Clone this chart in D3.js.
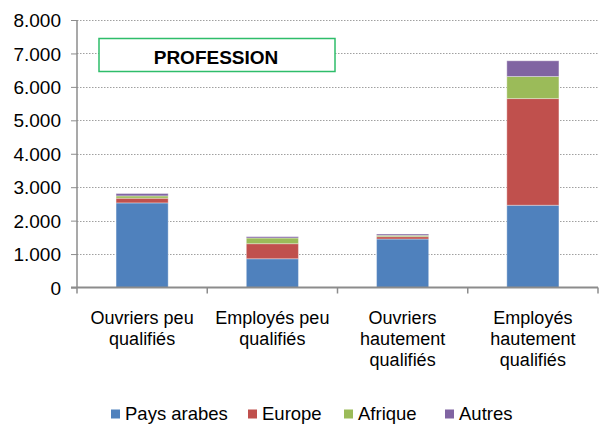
<!DOCTYPE html>
<html><head><meta charset="utf-8">
<script src="https://cdn.jsdelivr.net/npm/d3@7"></script>
<style>body{margin:0;background:#fff}svg{display:block;font-family:"Liberation Sans",Arial,sans-serif}</style>
</head><body><svg id="c" width="600" height="426"></svg>
<script>
const categories = [["Ouvriers peu","qualifiés"],["Employés peu","qualifiés"],["Ouvriers","hautement","qualifiés"],["Employés","hautement","qualifiés"]];
const seriesNames = ["Pays arabes","Europe","Afrique","Autres"];
const paysArabes = [2530, 860, 1450, 2460];
const europe = [140, 450, 70, 3190];
const afrique = [70, 170, 40, 660];
const autres = [70, 40, 40, 470];
const yTicks = [0,1000,2000,3000,4000,5000,6000,7000,8000];
const colors = ["#4f81bd","#c0504d","#9bbb59","#8064a2"];
const title = "PROFESSION";

(function(){
const svg = d3.select("#c");
const mL = 77, mR = 598, mT = 20, mB = 287.5;
const x = d3.scaleBand().domain(d3.range(categories.length)).range([mL, mR]).paddingInner(0.6).paddingOuter(0.3);
const y = d3.scaleLinear().domain([0, 8000]).range([mB, mT]);
const data = categories.map((c,i)=>({i, "Pays arabes":paysArabes[i], "Europe":europe[i], "Afrique":afrique[i], "Autres":autres[i]}));
const stack = d3.stack().keys(seriesNames)(data);

svg.append("g").selectAll("line").data(yTicks.slice(1)).join("line")
  .attr("x1", mL).attr("x2", mR).attr("y1", d=>Math.round(y(d))+0.5).attr("y2", d=>Math.round(y(d))+0.5)
  .attr("stroke", "#a0a0a0").attr("stroke-dasharray", "1.5,1.5").attr("stroke-width", 1);

svg.append("g").selectAll("g").data(stack).join("g").attr("fill", (d,i)=>colors[i])
  .selectAll("rect").data(d=>d).join("rect")
  .attr("x", d=>x(d.data.i)).attr("width", x.bandwidth())
  .attr("y", d=>y(d[1])).attr("height", d=>y(d[0])-y(d[1]))
  .attr("stroke", "rgba(255,255,255,0.35)").attr("stroke-width", 1);

const yAxis = svg.append("g").attr("transform", `translate(${mL},0)`)
  .call(d3.axisLeft(y).tickValues(yTicks).tickSize(6).tickFormat(d=>d3.format(",")(d).replace(/,/g,".")));
yAxis.select(".domain").attr("stroke", "#8c8c8c").attr("stroke-width", 1.5).attr("d", `M0,${mT}V${mB}`);
yAxis.selectAll(".tick line").attr("stroke", "#8c8c8c");
yAxis.selectAll(".tick text").attr("font-size", 19).attr("fill", "#000").attr("x", -16).attr("dy", "0.35em")
  .style("font-family", "'Liberation Sans',Arial,sans-serif");

const xb = svg.append("g").attr("transform", `translate(0,${mB})`);
xb.append("line").attr("x1", mL-6).attr("x2", mR).attr("stroke", "#8c8c8c").attr("stroke-width", 2);
const bounds = d3.range(categories.length+1).map(i => mL + i*(mR-mL)/categories.length);
xb.selectAll(".tk").data(bounds).join("line").attr("class","tk")
  .attr("x1", d=>d).attr("x2", d=>d).attr("y1", 0).attr("y2", 6).attr("stroke", "#8c8c8c").attr("stroke-width", 1.5);

svg.append("g").selectAll("text").data(categories).join("text")
  .attr("x", (d,i)=>x(i)+x.bandwidth()/2).attr("y", 323.5)
  .attr("text-anchor", "middle").attr("font-size", 18).attr("fill", "#000")
  .selectAll("tspan").data(d=>d).join("tspan")
  .attr("x", function(){return this.parentNode.getAttribute("x");}).attr("dy", (d,j)=>j===0?0:21).text(d=>d);

svg.append("rect").attr("x", 99).attr("y", 38.5).attr("width", 236).attr("height", 33)
  .attr("fill", "#fff").attr("stroke", "#2ebd6a").attr("stroke-width", 1.5);
svg.append("text").attr("x", 216).attr("y", 63.5).attr("text-anchor", "middle")
  .attr("font-size", 19).attr("font-weight", "bold").attr("fill", "#000").text(title);

const legX = [111, 248, 344, 445];
const lg = svg.append("g").selectAll("g").data(seriesNames).join("g")
  .attr("transform", (d,i)=>`translate(${legX[i]},409.5)`);
lg.append("rect").attr("width", 9).attr("height", 9).attr("fill", (d,i)=>colors[i]);
lg.append("text").attr("x", 14).attr("y", 10).attr("font-size", 18.5).attr("fill", "#000").text(d=>d);
})();
</script></body></html>
